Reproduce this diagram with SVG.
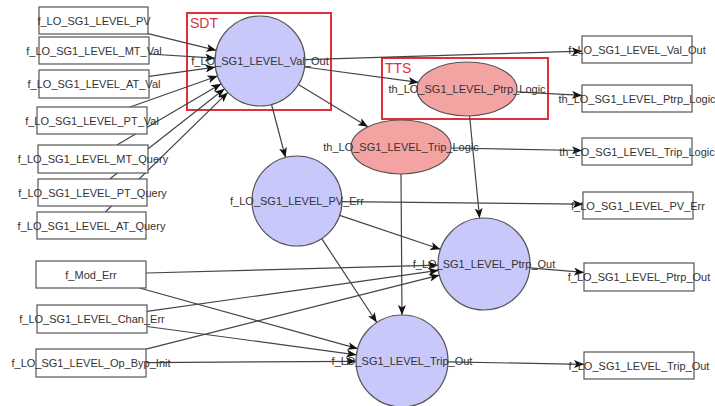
<svg xmlns="http://www.w3.org/2000/svg" width="715" height="406" viewBox="0 0 715 406">
<style>
text{font-family:"Liberation Sans",Arial,sans-serif;font-size:11px;fill:#333;text-anchor:middle}
.box{fill:#fff;stroke:#555;stroke-width:1.2}
.circ{fill:#c8c8fa;stroke:#555;stroke-width:1.2}
.ell{fill:#f4a3a3;stroke:#555;stroke-width:1.2}
.grp{fill:none;stroke:#e0303c;stroke-width:2}
.glabel{font-size:14px;fill:#e0303c;text-anchor:start}
.edge{stroke:#444;stroke-width:1.2;fill:none;marker-end:url(#arr)}
</style>
<defs>
<marker id="arr" viewBox="0 0 10 8" refX="10" refY="4" markerWidth="10" markerHeight="8" markerUnits="userSpaceOnUse" orient="auto">
<path d="M0,0 L10,4 L0,8 L2.5,4 z" fill="#111"/>
</marker>
</defs>
<rect width="715" height="406" fill="#fff"/>
<g id="group-SDT"><rect class="grp" x="187" y="13" width="144" height="97"/><text class="glabel" x="190" y="28">SDT</text></g>
<g id="group-TTS"><rect class="grp" x="382" y="58" width="166" height="61"/><text class="glabel" x="385" y="73">TTS</text></g>
<g id="connectors">
<line class="edge" x1="148" y1="33.7" x2="216.3" y2="50.3"/>
<line class="edge" x1="149" y1="54" x2="215.1" y2="58.2"/>
<line class="edge" x1="149" y1="76.4" x2="215.4" y2="67.2"/>
<line class="edge" x1="130.1" y1="107" x2="217.6" y2="76"/>
<line class="edge" x1="116.9" y1="145" x2="221.2" y2="83.8"/>
<line class="edge" x1="109.7" y1="179" x2="224.6" y2="88.8"/>
<line class="edge" x1="105.3" y1="212" x2="227.8" y2="92.4"/>
<line class="edge" x1="305" y1="59.6" x2="582" y2="51.2"/>
<line class="edge" x1="304.6" y1="67" x2="418.5" y2="82.4"/>
<line class="edge" x1="298.4" y1="84.4" x2="367.9" y2="126.8"/>
<line class="edge" x1="271.5" y1="104.5" x2="285.5" y2="157.5"/>
<line class="edge" x1="516.7" y1="91.8" x2="582" y2="95.4"/>
<line class="edge" x1="469.6" y1="116" x2="479.6" y2="218.2"/>
<line class="edge" x1="451" y1="148" x2="582" y2="150.5"/>
<line class="edge" x1="401" y1="174" x2="402" y2="315"/>
<line class="edge" x1="342" y1="201.6" x2="583" y2="204.2"/>
<line class="edge" x1="339.7" y1="215.4" x2="440.4" y2="249.3"/>
<line class="edge" x1="321.7" y1="238.6" x2="376.8" y2="322.5"/>
<line class="edge" x1="146" y1="273" x2="438" y2="265.2"/>
<line class="edge" x1="139.5" y1="288" x2="357.7" y2="348.7"/>
<line class="edge" x1="147" y1="311.3" x2="438.4" y2="270.4"/>
<line class="edge" x1="147" y1="326.5" x2="356.4" y2="354.8"/>
<line class="edge" x1="146" y1="349.1" x2="439.4" y2="275.2"/>
<line class="edge" x1="146" y1="362.6" x2="356" y2="361.3"/>
<line class="edge" x1="529.8" y1="267.8" x2="584" y2="272.4"/>
<line class="edge" x1="448" y1="361.9" x2="584" y2="364.3"/>
</g>
<g id="in-PV"><rect class="box" x="39" y="7" width="109" height="27"/><text x="94" y="24.5">f_LO_SG1_LEVEL_PV</text></g>
<g id="in-MT-Val"><rect class="box" x="39" y="37" width="110" height="27"/><text x="94" y="54.5">f_LO_SG1_LEVEL_MT_Val</text></g>
<g id="in-AT-Val"><rect class="box" x="39" y="70" width="110" height="28"/><text x="94" y="88">f_LO_SG1_LEVEL_AT_Val</text></g>
<g id="in-PT-Val"><rect class="box" x="37" y="107" width="110" height="27"/><text x="92" y="124.5">f_LO_SG1_LEVEL_PT_Val</text></g>
<g id="in-MT-Query"><rect class="box" x="38" y="145" width="110" height="28"/><text x="93" y="163">f_LO_SG1_LEVEL_MT_Query</text></g>
<g id="in-PT-Query"><rect class="box" x="38" y="179" width="109" height="27"/><text x="92.5" y="196.5">f_LO_SG1_LEVEL_PT_Query</text></g>
<g id="in-AT-Query"><rect class="box" x="37" y="212" width="109" height="27"/><text x="91.5" y="229.5">f_LO_SG1_LEVEL_AT_Query</text></g>
<g id="in-Mod-Err"><rect class="box" x="36" y="261" width="110" height="27"/><text x="91" y="278.5">f_Mod_Err</text></g>
<g id="in-Chan-Err"><rect class="box" x="37" y="305" width="110" height="28"/><text x="92" y="323">f_LO_SG1_LEVEL_Chan_Err</text></g>
<g id="in-Op-Byp-Init"><rect class="box" x="36" y="349" width="110" height="28"/><text x="91" y="367">f_LO_SG1_LEVEL_Op_Byp_Init</text></g>
<g id="n-Val-Out"><circle class="circ" cx="260" cy="61" r="45"/><text x="260" y="65">f_LO_SG1_LEVEL_Val_Out</text></g>
<g id="n-Ptrp-Logic"><ellipse class="ell" cx="467" cy="89" rx="50" ry="27"/><text x="467" y="93">th_LO_SG1_LEVEL_Ptrp_Logic</text></g>
<g id="n-Trip-Logic"><ellipse class="ell" cx="401" cy="147" rx="50" ry="27"/><text x="401" y="151">th_LO_SG1_LEVEL_Trip_Logic</text></g>
<g id="n-PV-Err"><circle class="circ" cx="297" cy="201" r="45"/><text x="297" y="205">f_LO_SG1_LEVEL_PV_Err</text></g>
<g id="n-Ptrp-Out"><circle class="circ" cx="484" cy="264" r="46"/><text x="484" y="268">f_LO_SG1_LEVEL_Ptrp_Out</text></g>
<g id="n-Trip-Out"><circle class="circ" cx="402" cy="361" r="46"/><text x="402" y="365">f_LO_SG1_LEVEL_Trip_Out</text></g>
<g id="out-Val-Out"><rect class="box" x="582" y="36" width="110" height="27"/><text x="637" y="53.5">f_LO_SG1_LEVEL_Val_Out</text></g>
<g id="out-Ptrp-Logic"><rect class="box" x="582" y="85" width="110" height="27"/><text x="637" y="102.5">th_LO_SG1_LEVEL_Ptrp_Logic</text></g>
<g id="out-Trip-Logic"><rect class="box" x="582" y="138" width="110" height="27"/><text x="637" y="155.5">th_LO_SG1_LEVEL_Trip_Logic</text></g>
<g id="out-PV-Err"><rect class="box" x="583" y="192" width="110" height="27"/><text x="638" y="209.5">f_LO_SG1_LEVEL_PV_Err</text></g>
<g id="out-Ptrp-Out"><rect class="box" x="584" y="263" width="110" height="28"/><text x="639" y="281">f_LO_SG1_LEVEL_Ptrp_Out</text></g>
<g id="out-Trip-Out"><rect class="box" x="584" y="352" width="110" height="27"/><text x="639" y="369.5">f_LO_SG1_LEVEL_Trip_Out</text></g>
</svg>
